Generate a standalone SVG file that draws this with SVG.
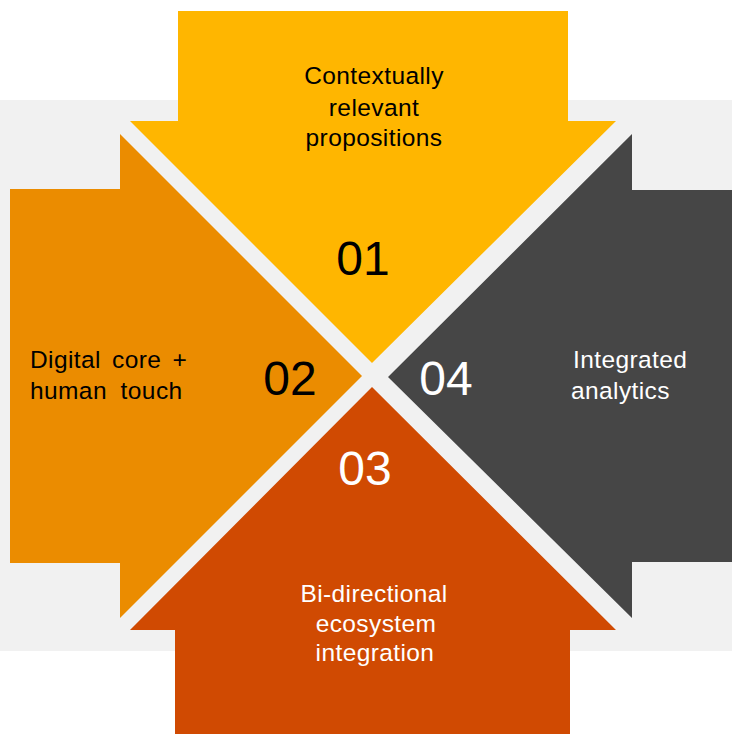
<svg xmlns="http://www.w3.org/2000/svg" width="732" height="734" viewBox="0 0 732 734">
<style>
text{font-family:"Liberation Sans",Arial,sans-serif;}
.lbl{font-size:24.5px;letter-spacing:0.4px;}
.num{font-size:48px;text-anchor:middle;}
.dark{fill:#000000;}
.light{fill:#ffffff;}
</style>
<rect x="0" y="0" width="732" height="734" fill="#ffffff"/>
<rect x="0" y="100" width="732" height="551" fill="#f1f1f1"/>
<g id="node-01">
<path d="M178 11 H568 V121 H616 L372 363 L130 121 H178 Z" fill="#ffb600"/>
<text class="lbl dark" x="374" y="84" text-anchor="middle">Contextually</text>
<text class="lbl dark" x="374" y="116" text-anchor="middle">relevant</text>
<text class="lbl dark" x="374" y="146" text-anchor="middle">propositions</text>
<text class="num dark" x="363" y="275">01</text>
</g>
<g id="node-02">
<path d="M10 189 H120 V134 L362 376 L120 618 V563 H10 Z" fill="#eb8c00"/>
<text class="lbl dark" x="30" y="368" word-spacing="4">Digital core +</text>
<text class="lbl dark" x="30" y="399" word-spacing="6.5">human touch</text>
<text class="num dark" x="290" y="395">02</text>
</g>
<g id="node-03">
<path d="M175 734 V630 H130 L372 387 L616 630 H570 V734 Z" fill="#d04a02"/>
<text class="lbl light" x="374" y="602" text-anchor="middle">Bi-directional</text>
<text class="lbl light" x="376" y="632" text-anchor="middle">ecosystem</text>
<text class="lbl light" x="375" y="661" text-anchor="middle">integration</text>
<text class="num light" x="365" y="485">03</text>
</g>
<g id="node-04">
<path d="M732 190 H632 V134 L388 377 L632 618 V562 H732 Z" fill="#464646"/>
<text class="lbl light" x="573" y="368">Integrated</text>
<text class="lbl light" x="571" y="399">analytics</text>
<text class="num light" x="446" y="395">04</text>
</g>
<g id="connectors"></g>
</svg>
